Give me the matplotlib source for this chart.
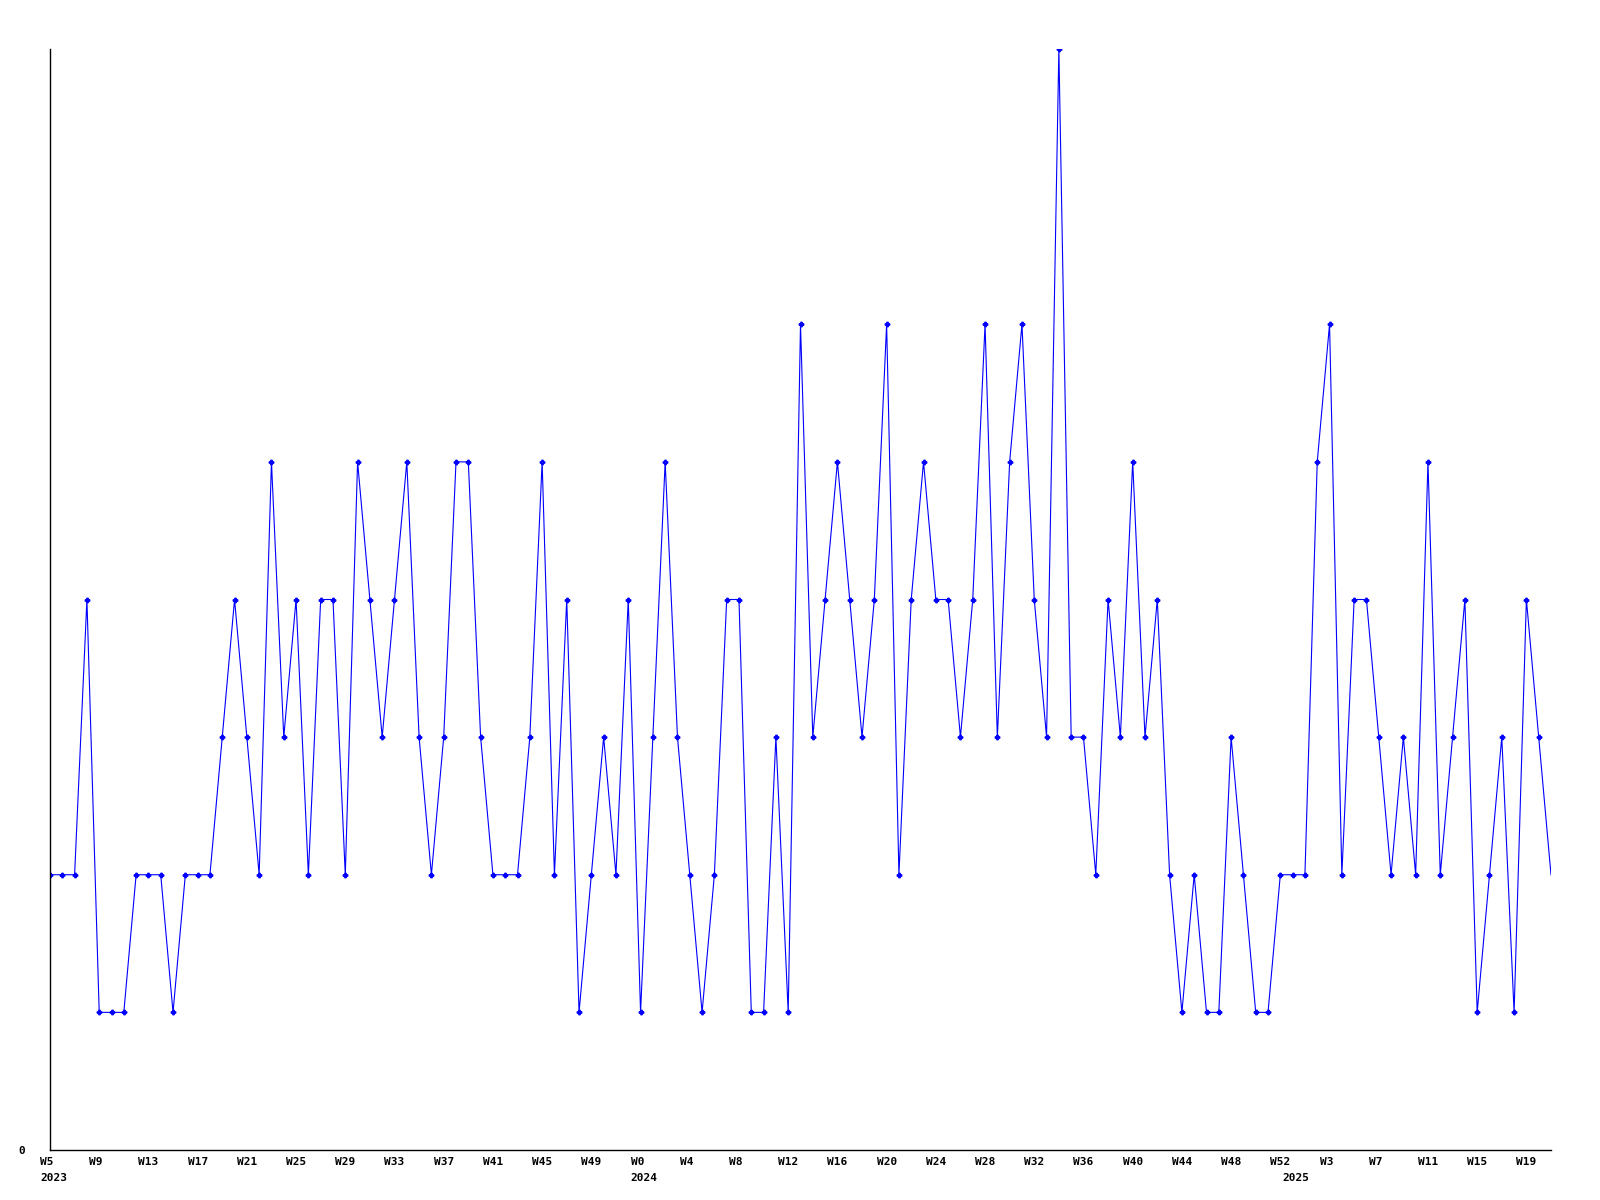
import matplotlib
matplotlib.use("Agg")
import matplotlib.pyplot as plt
from matplotlib.transforms import ScaledTranslation, blended_transform_factory

# weekly counts, W5 2023 .. W21 2025
values = [2, 2, 2, 4, 1, 1, 1, 2, 2, 2, 1, 2, 2, 2, 3, 4, 3, 2, 5, 3,
          4, 2, 4, 4, 2, 5, 4, 3, 4, 5, 3, 2, 3, 5, 5, 3, 2, 2, 2, 3,
          5, 2, 4, 1, 2, 3, 2, 4, 1, 3, 5, 3, 2, 1, 2, 4, 4, 1, 1, 3,
          1, 6, 3, 4, 5, 4, 3, 4, 6, 2, 4, 5, 4, 4, 3, 4, 6, 3, 5, 6,
          4, 3, 8, 3, 3, 2, 4, 3, 5, 3, 4, 2, 1, 2, 1, 1, 3, 2, 1, 1,
          2, 2, 2, 5, 6, 2, 4, 4, 3, 2, 3, 2, 5, 2, 3, 4, 1, 2, 3, 1,
          4, 3, 2]

week_labels = ["W5", "W9", "W13", "W17", "W21", "W25", "W29", "W33", "W37", "W41",
               "W45", "W49", "W0", "W4", "W8", "W12", "W16", "W20", "W24", "W28",
               "W32", "W36", "W40", "W44", "W48", "W52", "W3", "W7", "W11", "W15", "W19"]
year_labels = ["2023", "2024", "2025"]
year_pos = [0, 48, 101]

FONT = dict(family="DejaVu Sans Mono", weight="bold", size=8)

fig = plt.figure(figsize=(16, 12), dpi=100)
ax = fig.add_axes([50 / 1600, 50 / 1200, 1501 / 1600, 1101 / 1200])

x = list(range(len(values)))
ax.plot(x, values, color="#0000ff", linewidth=0.8, marker="P", markersize=3.2,
        markevery=slice(0, len(values) - 1))

ax.set_xlim(0, len(values) - 1)
ax.set_ylim(0, 8)

for s in ["top", "right"]:
    ax.spines[s].set_visible(False)
ax.spines["left"].set_linewidth(1.0)
ax.spines["bottom"].set_linewidth(1.0)

ax.set_yticks([0])
ax.set_yticklabels(["0"], **FONT)
ax.tick_params(axis="y", length=0, pad=18)

ticks = list(range(0, len(week_labels) * 4, 4))
ax.set_xticks(ticks)
ax.set_xticklabels(week_labels, **FONT)
ax.tick_params(axis="x", length=0, pad=5)
shift = ScaledTranslation(-10 / 100, 0, fig.dpi_scale_trans)
for lbl in ax.get_xticklabels():
    lbl.set_horizontalalignment("left")
    lbl.set_transform(lbl.get_transform() + shift)

trans = blended_transform_factory(ax.transData, ax.transAxes) + \
    ScaledTranslation(-10 / 100, -23 / 100, fig.dpi_scale_trans)
for yl, xp in zip(year_labels, year_pos):
    ax.text(xp, 0, yl, transform=trans, ha="left", va="top", **FONT)

fig.savefig("out.png", dpi=100, facecolor="white")
